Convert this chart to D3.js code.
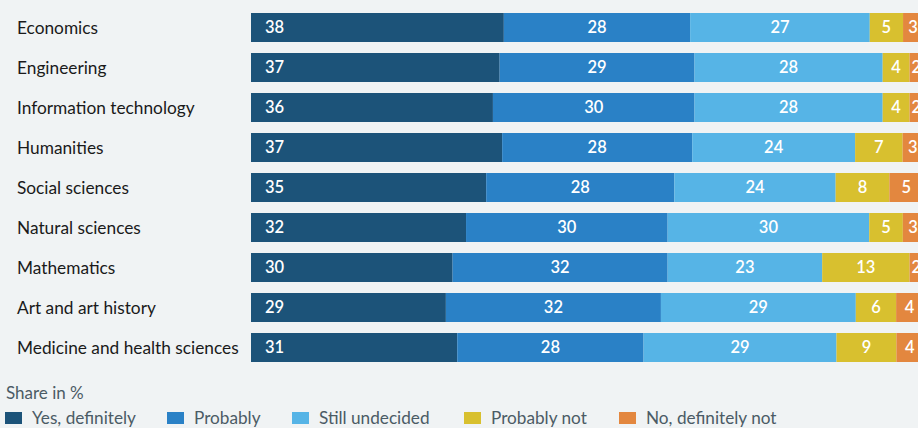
<!DOCTYPE html>
<html>
<head>
<meta charset="utf-8">
<script src="https://cdn.jsdelivr.net/npm/d3@7"></script>
<style>
  body { margin: 0; background: #f0f3f4; }
  svg { display: block; font-family: "Source Sans Pro", "Lato", "Noto Sans", sans-serif; }
</style>
</head>
<body>
<svg id="chart" width="918" height="428"></svg>
<script>
const subjects = ["Economics", "Engineering", "Information technology", "Humanities", "Social sciences",
  "Natural sciences", "Mathematics", "Art and art history", "Medicine and health sciences"];
const answers = ["Yes, definitely", "Probably", "Still undecided", "Probably not", "No, definitely not"];
const yesDefinitely = [38, 37, 36, 37, 35, 32, 30, 29, 31];
const probably = [28, 29, 30, 28, 28, 30, 32, 32, 28];
const undecided = [27, 28, 28, 24, 24, 30, 23, 29, 29];
const probablyNot = [5, 4, 4, 7, 8, 5, 13, 6, 9];
const definitelyNot = [3, 2, 2, 3, 5, 3, 2, 4, 4];
const colors = ["#1c5379", "#2a81c6", "#56b4e6", "#d8c02f", "#e3873f"];

const svg = d3.select("#chart");
const margin = { top: 13, left: 251 };

const rows = subjects.map(function (s, i) {
  return {
    subject: s,
    k0: yesDefinitely[i], k1: probably[i], k2: undecided[i], k3: probablyNot[i], k4: definitelyNot[i]
  };
});
const keys = ["k0", "k1", "k2", "k3", "k4"];

// rows are scaled to a full 100 % bar (rounded shares don't always add to 100)
const xScale = d3.scaleLinear().domain([0, 1]).range([margin.left, margin.left + 672]);
// 40px per row, 29px bars
const yScale = d3.scaleBand().domain(subjects).range([margin.top, margin.top + 40 * subjects.length - 11]).paddingInner(0.275).paddingOuter(0);
const colorScheme = d3.scaleOrdinal().domain(keys).range(colors);

const series = d3.stack().keys(keys).offset(d3.stackOffsetExpand)(rows);

const layers = svg.append("g")
  .selectAll("g")
  .data(series)
  .enter().append("g")
  .attr("fill", function (d) { return colorScheme(d.key); });

layers.selectAll("rect")
  .data(function (d) { return d; })
  .enter().append("rect")
  .attr("x", function (d) { return xScale(d[0]); })
  .attr("y", function (d) { return yScale(d.data.subject); })
  .attr("width", function (d) { return xScale(d[1]) - xScale(d[0]); })
  .attr("height", yScale.bandwidth());

layers.each(function (s) {
  d3.select(this).selectAll("text")
    .data(s)
    .enter().append("text")
    .attr("x", function (d) {
      return s.index === 0 ? xScale(d[0]) + 14 : (xScale(d[0]) + xScale(d[1])) / 2;
    })
    .attr("y", function (d) { return yScale(d.data.subject) + yScale.bandwidth() / 2; })
    .attr("dy", "0.35em")
    .attr("text-anchor", s.index === 0 ? "start" : "middle")
    .attr("fill", "#ffffff")
    .style("font-size", "16.5px")
    .style("font-weight", "600")
    .text(function (d) { return d.data[s.key]; });
});

// category labels
svg.append("g")
  .selectAll("text")
  .data(subjects)
  .enter().append("text")
  .attr("x", 17)
  .attr("y", function (d) { return yScale(d) + yScale.bandwidth() / 2; })
  .attr("dy", "0.35em")
  .attr("fill", "#1a1a1a")
  .style("font-size", "17.3px")
  .text(function (d) { return d; });

// legend
svg.append("text")
  .attr("x", 6)
  .attr("y", 399)
  .attr("fill", "#4b5b65")
  .style("font-size", "17px")
  .text("Share in %");

const legendX = [5, 167, 292, 464, 619];
const legend = svg.append("g")
  .selectAll("g")
  .data(answers)
  .enter().append("g")
  .attr("transform", function (d, i) { return "translate(" + legendX[i] + ",412)"; });

legend.append("rect")
  .attr("width", 17)
  .attr("height", 12)
  .attr("y", 0)
  .attr("fill", function (d, i) { return colors[i]; });

legend.append("text")
  .attr("x", 27)
  .attr("y", 6)
  .attr("dy", "0.35em")
  .attr("fill", "#4b5b65")
  .style("font-size", "17.2px")
  .text(function (d) { return d; });
</script>
</body>
</html>
